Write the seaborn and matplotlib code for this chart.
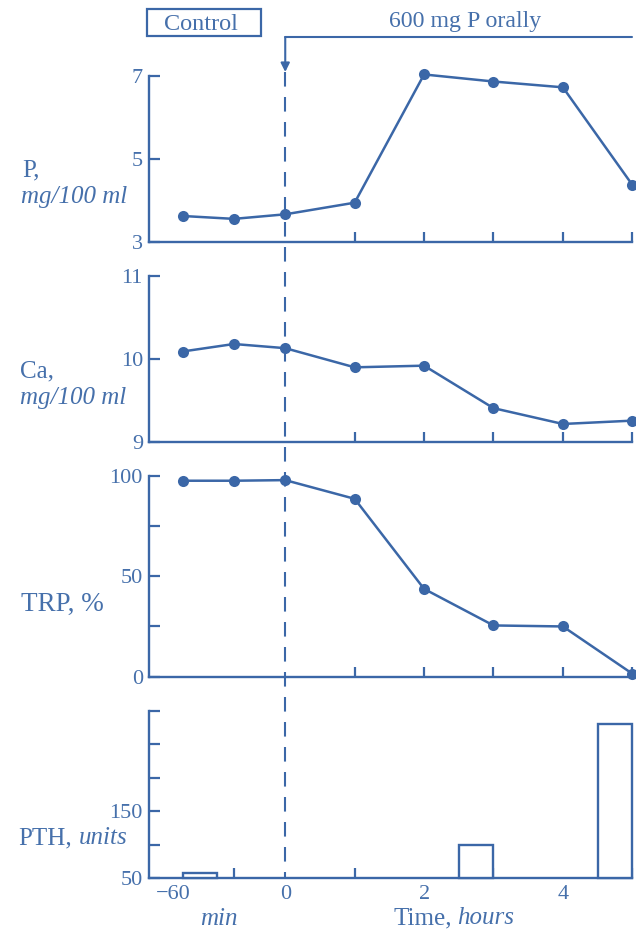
import numpy as np
import pandas as pd
import matplotlib
matplotlib.use("Agg")
import matplotlib.pyplot as plt
import matplotlib.transforms as mtransforms
from matplotlib.lines import Line2D
from matplotlib.patches import Rectangle
import seaborn as sns

# ---------------- data ----------------
sample_times_h = [-1.0, -0.5, 0.0, 1.0, 2.0, 3.0, 4.0, 5.0]   # hours (negative = control, minutes)
p_values = [3.62, 3.55, 3.66, 3.94, 7.03, 6.86, 6.72, 4.37]
ca_values = [10.09, 10.18, 10.13, 9.90, 9.92, 9.41, 9.22, 9.26]
trp_values = [97.5, 97.5, 97.8, 88.5, 43.7, 25.5, 25.0, 1.5]

pth_start_h = [-1.0, 2.5, 4.5]
pth_end_h = [-0.66, 3.0, 5.0]
pth_values = [58, 100, 281]

x_tick_times_h = [-1.0, 0.0, 2.0, 4.0]
x_tick_labels = ["\u221260", "0", "2", "4"]

# ---------------- style ----------------
sns.set_theme(style="white")
plt.rcParams["font.family"] = ["Liberation Serif", "DejaVu Serif"]
BLUE = "#3b67a7"
TXT = "#4670ab"

W, H = 636, 934
fig = plt.figure(figsize=(W / 100, H / 100), dpi=100)

MIN_SCALE = 1.48  # control (minutes) part of the time axis is stretched


def to_axis(t):
    t = np.asarray(t, dtype=float)
    return np.where(t < 0, t * MIN_SCALE, t)


def fx(x):
    return x / W


def fy(y):
    return 1 - y / H


LEFT, RIGHT = 148.5, 632.3
XLIM = (float(to_axis(-1.0)) - 0.49, 5.0)


def make_ax(top, bottom):
    return fig.add_axes([fx(LEFT), fy(bottom), fx(RIGHT - LEFT), (bottom - top) / H])


ax_p = make_ax(75.7, 241.7)
ax_ca = make_ax(275.7, 442.3)
ax_trp = make_ax(475.7, 676.7)
ax_pth = make_ax(711.0, 878.3)

xpos = to_axis(sample_times_h)


def line_panel(ax, values):
    df = pd.DataFrame({"x": xpos, "y": values})
    sns.lineplot(data=df, x="x", y="y", ax=ax, color=BLUE, linewidth=1.8,
                 marker="o", markersize=8, markeredgewidth=0, sort=False)
    for ln in ax.lines:
        ln.set_clip_on(False)


line_panel(ax_p, p_values)
line_panel(ax_ca, ca_values)
line_panel(ax_trp, trp_values)

# PTH bars
starts = to_axis(pth_start_h)
ends = to_axis(pth_end_h)
ax_pth.bar(starts, np.array(pth_values) - 50, width=ends - starts, bottom=50,
           align="edge", facecolor="white", edgecolor=BLUE, linewidth=1.7,
           clip_on=False, zorder=3)

# axes styling
ylims = {ax_p: (3, 7), ax_ca: (9, 11), ax_trp: (0, 100), ax_pth: (50, 300)}
ymajor = {ax_p: [3, 5, 7], ax_ca: [9, 10, 11], ax_trp: [0, 50, 100], ax_pth: [50, 150]}
yminor = {ax_p: [], ax_ca: [], ax_trp: [25, 75], ax_pth: [100, 200, 250, 300]}

for ax in (ax_p, ax_ca, ax_trp, ax_pth):
    ax.set_xlim(*XLIM)
    ax.set_ylim(*ylims[ax])
    ax.set_xlabel("")
    ax.set_ylabel("")
    ax.set_facecolor("none")
    for s in ("top", "right"):
        ax.spines[s].set_visible(False)
    for s in ("left", "bottom"):
        ax.spines[s].set_color(BLUE)
        ax.spines[s].set_linewidth(1.7)
    ax.set_yticks(ymajor[ax])
    ax.set_yticks(yminor[ax], minor=True)
    ax.set_yticklabels([str(v) for v in ymajor[ax]])
    minor_x = [1, 2, 3, 4, 5]
    if ax is ax_pth:
        minor_x = [float(to_axis(-0.5))] + minor_x
    ax.set_xticks(minor_x, minor=True)
    if ax is ax_pth:
        ax.set_xticks(to_axis(x_tick_times_h))
        ax.set_xticklabels(x_tick_labels)
    else:
        ax.set_xticks([])
    ax.tick_params(axis="y", which="both", direction="in", length=8, width=1.6,
                   color=BLUE, labelcolor=TXT, labelsize=16, pad=4, left=True)
    ax.tick_params(axis="x", which="minor", direction="in", length=7, width=1.6,
                   color=BLUE, bottom=True)
    ax.tick_params(axis="x", which="major", length=0, labelcolor=TXT,
                   labelsize=16, pad=5, bottom=True)

# nudge the "-60" label slightly left, as in the original typesetting
lbl = ax_pth.get_xticklabels()[0]
lbl.set_transform(lbl.get_transform() +
                  mtransforms.ScaledTranslation(-9 / 100, 0, fig.dpi_scale_trans))

# dashed vertical line at time 0 across all panels, and the dosing arrow
trans = mtransforms.blended_transform_factory(ax_pth.transData, fig.transFigure)
fig.add_artist(Line2D([0, 0], [fy(72), fy(878.3)], transform=trans, color=BLUE,
                      linewidth=1.5, linestyle=(0, (7, 5)), zorder=5))
fig.add_artist(Line2D([0, 5.0], [fy(37.3), fy(37.3)], transform=trans, color=BLUE,
                      linewidth=1.5))
ax_pth.annotate("", xy=(0, fy(72)), xytext=(0, fy(37.3)), xycoords=trans,
                textcoords=trans, annotation_clip=False,
                arrowprops=dict(arrowstyle="-|>", color=BLUE, lw=1.5,
                                mutation_scale=13, shrinkA=0, shrinkB=0))

# header texts
fig.add_artist(Rectangle((fx(147.3), fy(36)), fx(260.7 - 147.3), (36 - 9.3) / H,
                         transform=fig.transFigure, fill=False, edgecolor=BLUE,
                         linewidth=1.6))
fig.text(fx(201), fy(30), "Control", ha="center", va="baseline", color=TXT, fontsize=17.5)
fig.text(fx(465), fy(27.5), "600 mg P orally", ha="center", va="baseline", color=TXT,
         fontsize=17.2)

# y labels
LBL = 18
fig.text(fx(22), fy(176), "P,", ha="left", va="baseline", color=TXT, fontsize=LBL)
fig.text(fx(21), fy(203), "mg/100 ml", ha="left", va="baseline", color=TXT,
         fontsize=LBL, style="italic")
fig.text(fx(20), fy(377), "Ca,", ha="left", va="baseline", color=TXT, fontsize=LBL)
fig.text(fx(20), fy(404), "mg/100 ml", ha="left", va="baseline", color=TXT,
         fontsize=LBL, style="italic")
fig.text(fx(21), fy(611), "TRP, %", ha="left", va="baseline", color=TXT, fontsize=19.5)
fig.text(fx(18), fy(844), "PTH,", ha="left", va="baseline", color=TXT, fontsize=LBL)
fig.text(fx(128), fy(844), "units", ha="right", va="baseline", color=TXT,
         fontsize=LBL, style="italic")

# x labels
fig.text(fx(219), fy(925), "min", ha="center", va="baseline", color=TXT,
         fontsize=LBL, style="italic")
fig.text(fx(452), fy(924), "Time,", ha="right", va="baseline", color=TXT, fontsize=LBL)
fig.text(fx(457), fy(924), "hours", ha="left", va="baseline", color=TXT,
         fontsize=LBL, style="italic")

fig.savefig("out.png", dpi=100)
